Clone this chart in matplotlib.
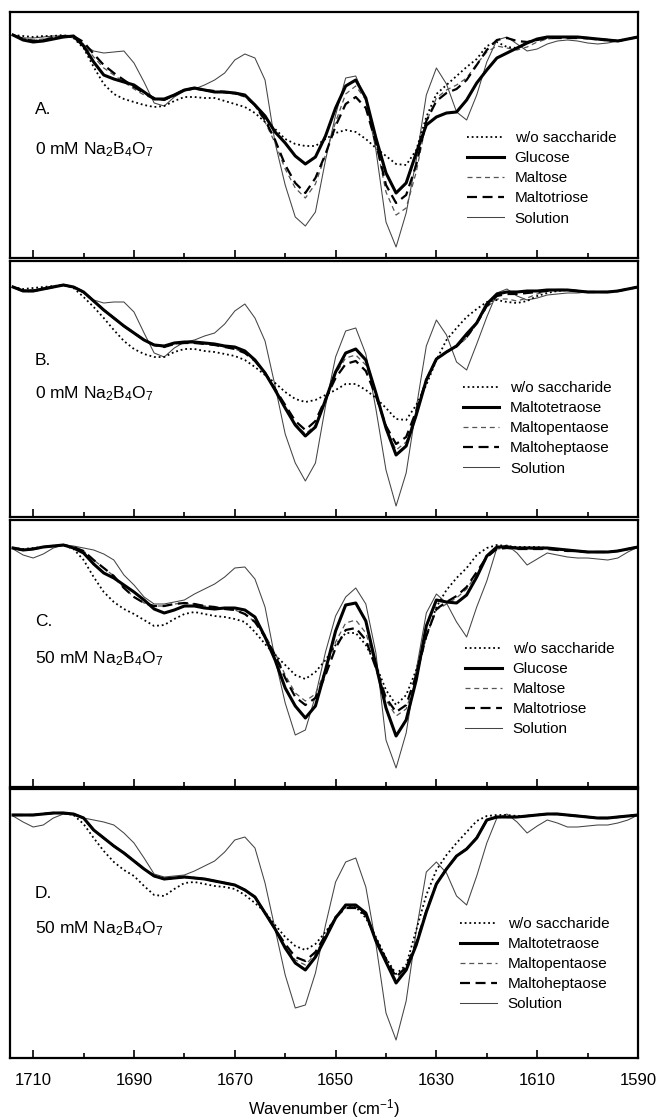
import numpy as np
import matplotlib.pyplot as plt

plt.rcParams['font.family'] = ['Liberation Sans', 'DejaVu Sans']
plt.rcParams['mathtext.fontset'] = 'custom'
plt.rcParams['mathtext.rm'] = 'Liberation Sans'
plt.rcParams['mathtext.default'] = 'regular'

# wavenumber grid (cm-1), sampled every 2 cm-1
wavenumber = np.arange(1714, 1589, -2)

# second-derivative spectra, plotted as depth below the panel top (arb. units)
# --- Panel A: 0 mM borate, glucose / maltose / maltotriose
a_without = [23,24,25,24,24,23,26,36,55,72, 82,87,90,93,95,94,89,85,85,86,
             86,89,92,95,101,110,117,127,132,134, 134,127,121,118,120,127,136,144,152,153,
             138,105,82,73,64,55,47,34,30,35, 36,31,28,26,25,25,25,26,27,28, 29,27,25]
a_glucose = [23,28,30,29,27,25,24,34,50,63, 67,70,73,80,87,87,83,78,76,78,
             80,80,81,83,93,104,120,131,144,152, 145,124,96,74,68,86,126,161,181,171,
             141,113,105,101,100,88,71,58,46,41, 36,31,27,25,25,25,25,26,27,28, 29,27,25]
a_maltose = [23,26,28,27,25,24,24,32,45,56, 63,70,77,83,87,88,84,79,77,79,
             80,81,82,85,94,110,131,157,176,186, 172,143,110,82,74,88,130,180,203,196,
             160,110,86,78,73,66,52,40,34,36, 38,35,30,27,26,26,26,27,28,29, 29,27,25]
a_maltotriose = [23,27,29,28,26,24,24,30,42,53, 61,68,75,81,86,88,83,78,76,78,
                 79,80,81,84,93,108,128,153,171,181, 166,142,114,92,85,96,131,173,191,183,
                 153,109,89,81,77,68,53,38,28,26, 29,30,28,26,26,26,26,26,27,28, 29,27,25]
a_solution = [23,26,26,25,24,24,26,33,39,41, 40,39,51,70,91,94,85,79,77,73,
              68,61,48,42,46,68,131,173,205,214, 200,148,103,66,64,88,138,210,235,201,
              148,83,56,72,100,108,83,50,28,25, 32,39,37,32,29,28,29,31,32,31, 29,27,25]

# --- Panel B: 0 mM borate, maltotetraose / maltopentaose / maltoheptaose
b_without = [26,28,27,26,25,24,27,36,46,57, 69,80,88,93,96,96,91,88,88,90,
             91,93,95,99,106,114,122,131,138,141, 139,134,129,123,123,129,137,147,158,159,
             144,124,99,79,67,56,48,41,39,41, 42,40,35,32,30,29,30,31,31,31, 30,28,26]
b_maltotetraose = [26,30,30,28,26,24,26,31,40,49, 57,65,72,79,84,85,82,81,81,82,
                   83,85,86,90,99,112,129,147,164,175, 166,139,111,92,88,99,132,167,194,185,
                   154,119,98,91,85,73,62,43,33,31, 31,30,30,29,29,29,30,31,31,31, 30,28,26]
b_maltopentaose = [26,29,29,27,26,24,26,31,40,49, 57,65,72,79,84,86,83,82,82,83,
                   84,86,88,92,100,112,129,146,163,173, 164,139,113,97,94,104,134,167,189,181,
                   152,119,98,91,86,77,63,46,38,38, 40,37,33,30,29,29,30,31,31,31, 30,28,26]
b_maltoheptaose = [26,30,30,28,26,24,26,31,40,49, 57,65,72,79,84,86,83,82,82,83,
                   84,86,88,92,100,112,128,144,160,169, 160,138,117,103,100,110,135,165,183,176,
                   150,119,98,91,85,76,62,45,35,33, 33,32,31,30,29,29,30,31,31,31, 30,28,26]
b_solution = [26,29,29,27,25,24,26,32,39,42, 41,41,51,72,92,96,87,81,79,75,
              72,63,50,43,57,80,125,173,202,220, 202,145,96,70,67,93,148,209,245,212,
              147,85,59,74,101,109,83,56,32,28, 35,39,37,34,33,32,32,31,31,31, 30,28,26]

# --- Panel C: 50 mM borate, glucose / maltose / maltotriose
c_without = [28,29,28,27,26,25,29,40,57,72, 82,89,94,100,106,105,99,94,92,94,
             96,97,99,102,112,124,135,145,155,159, 152,140,125,113,113,125,145,170,185,175,
             150,116,87,70,58,48,35,28,25,26, 27,27,27,28,29,30,31,32,32,32, 31,29,27]
c_glucose = [28,30,29,27,26,25,28,33,44,53, 58,65,72,80,89,93,90,86,86,88,
             89,88,88,90,97,117,140,168,186,198, 186,150,111,85,83,101,145,188,216,200,
             160,106,80,82,83,75,57,36,27,27, 28,28,28,28,29,30,31,32,32,32, 31,29,27]
c_maltose = [28,30,29,27,26,25,27,31,40,48, 56,68,77,83,86,86,84,83,84,86,
             87,89,90,94,102,115,133,155,173,181, 174,150,122,103,100,113,145,180,196,189,
             158,117,90,84,78,69,54,38,29,28, 29,29,29,29,30,31,31,32,32,32, 31,29,27]
c_maltotriose = [28,30,29,27,26,25,27,31,40,48, 56,68,77,83,86,86,84,83,84,86,
                 87,89,90,94,102,117,135,158,177,185, 178,155,128,110,108,120,148,178,192,185,
                 155,116,89,82,76,67,52,37,29,28, 29,29,29,29,30,31,31,32,32,32, 31,29,27]
c_solution = [29,35,38,34,28,25,26,28,30,34, 40,55,65,77,84,84,82,80,74,69,
              64,57,48,47,59,87,139,183,215,210, 176,132,96,77,68,84,133,220,248,213,
              150,93,74,83,102,117,87,61,28,25, 33,45,39,33,35,37,38,38,39,40, 38,32,27]

# --- Panel D: 50 mM borate, maltotetraose / maltopentaose / maltoheptaose
d_without = [26,26,26,25,24,24,26,35,49,62, 73,81,87,97,106,107,100,94,93,95,
             97,98,100,106,114,123,136,148,157,161, 155,143,129,118,118,129,148,169,185,176,
             141,106,81,66,54,43,32,27,26,26, 27,27,26,25,25,26,27,28,29,29, 28,27,26]
d_maltotetraose = [26,26,26,25,24,24,25,29,41,49, 57,64,72,80,87,90,89,88,89,90,
                   92,94,96,101,108,124,140,159,174,181, 168,149,129,116,116,124,152,173,194,181,
                   156,123,95,80,67,60,49,31,28,28, 28,27,26,25,25,26,27,28,29,29, 28,27,26]
d_maltopentaose = [26,26,26,25,24,24,25,29,41,49, 57,64,72,80,87,90,89,88,89,90,
                   92,94,96,101,108,124,140,157,171,176, 165,147,128,118,117,125,151,172,191,180,
                   155,122,95,80,67,60,49,31,28,28, 28,27,26,25,25,26,27,28,29,29, 28,27,26]
d_maltoheptaose = [26,26,26,25,24,24,25,29,41,49, 57,64,72,80,87,90,89,88,89,90,
                   92,94,96,101,108,124,140,155,168,172, 163,146,128,119,119,126,150,170,188,178,
                   154,122,95,80,67,60,49,31,28,28, 28,27,26,25,25,26,27,28,29,29, 28,27,26]
d_solution = [27,33,38,36,29,25,26,29,31,33, 36,44,54,69,85,88,87,86,82,77,
              72,63,51,48,59,94,140,186,219,216, 184,136,93,73,69,98,155,224,251,212,
              142,83,73,84,107,116,87,54,29,25, 33,44,37,31,34,38,38,37,36,36, 34,31,26]

panel_letters = ["A.", "B.", "C.", "D."]
borate = ["0 mM Na$_2$B$_4$O$_7$", "0 mM Na$_2$B$_4$O$_7$",
          "50 mM Na$_2$B$_4$O$_7$", "50 mM Na$_2$B$_4$O$_7$"]
names_small = ["w/o saccharide", "Glucose", "Maltose", "Maltotriose", "Solution"]
names_large = ["w/o saccharide", "Maltotetraose", "Maltopentaose", "Maltoheptaose", "Solution"]

panels = [
    (names_small, [a_without, a_glucose, a_maltose, a_maltotriose, a_solution]),
    (names_large, [b_without, b_maltotetraose, b_maltopentaose, b_maltoheptaose, b_solution]),
    (names_small, [c_without, c_glucose, c_maltose, c_maltotriose, c_solution]),
    (names_large, [d_without, d_maltotetraose, d_maltopentaose, d_maltoheptaose, d_solution]),
]

# line styles: w/o, sugar 1, sugar 2, sugar 3, solution
styles = [
    dict(color='black', lw=1.3, ls=(0, (1, 1.6)), zorder=4),
    dict(color='black', lw=2.2, ls='-', zorder=5),
    dict(color='#555555', lw=0.9, ls=(0, (4, 3)), zorder=3),
    dict(color='black', lw=1.6, ls=(0, (4.5, 2.5)), zorder=4),
    dict(color='#444444', lw=0.75, ls='-', zorder=2),
]

W, H = 656, 1120
# pixel boxes (top, bottom) of the four panels
boxes = [(12, 258), (261, 517), (520, 787), (789, 1058)]
x0, x1 = 10, 638
legend_anchor = [(0.728, 0.516), (0.721, 0.531), (0.725, 0.543), (0.717, 0.524)]
letter_y = [0.585, 0.594, 0.603, 0.595]
borate_y = [0.423, 0.465, 0.464, 0.465]

fig = plt.figure(figsize=(W / 100, H / 100), dpi=100)

for i, ((names, series), (top, bot)) in enumerate(zip(panels, boxes)):
    ax = fig.add_axes([x0 / W, 1 - bot / H, (x1 - x0) / W, (bot - top) / H])
    handles = []
    for name, vals, st in zip(names, series, styles):
        h, = ax.plot(wavenumber, vals, label=name, solid_joinstyle='round', **st)
        handles.append(h)
    ax.set_xlim(1714.6, 1590)
    ax.set_ylim(bot - top, 0)
    ax.set_yticks([])
    ax.set_xticks(np.arange(1590, 1711, 20))
    ax.set_xticks(np.arange(1600, 1701, 20), minor=True)
    ax.tick_params(axis='x', which='both', direction='in', top=False, width=1.2,
                   labelsize=12, pad=11)
    ax.tick_params(axis='x', which='major', length=6)
    ax.tick_params(axis='x', which='minor', length=3.5)
    if i < 3:
        ax.tick_params(axis='x', labelbottom=False)
    else:
        ax.set_xlabel("Wavenumber (cm$^{-1}$)", fontsize=12, va='top')
        ax.xaxis.set_label_coords(0.5, -(1097 - bot) / (bot - top))
    for sp in ax.spines.values():
        sp.set_linewidth(1.6)

    ax.text(0.04, letter_y[i], panel_letters[i], transform=ax.transAxes,
            fontsize=12.5, va='baseline', ha='left')
    ax.text(0.04, borate_y[i], borate[i], transform=ax.transAxes,
            fontsize=12.5, va='baseline', ha='left')

    ax.legend(handles=handles, loc='upper left', bbox_to_anchor=legend_anchor[i],
              frameon=False, fontsize=11, borderpad=0, borderaxespad=0,
              handlelength=2.4, handletextpad=0.7, labelspacing=0.4)

fig.savefig("out.png", dpi=100)
